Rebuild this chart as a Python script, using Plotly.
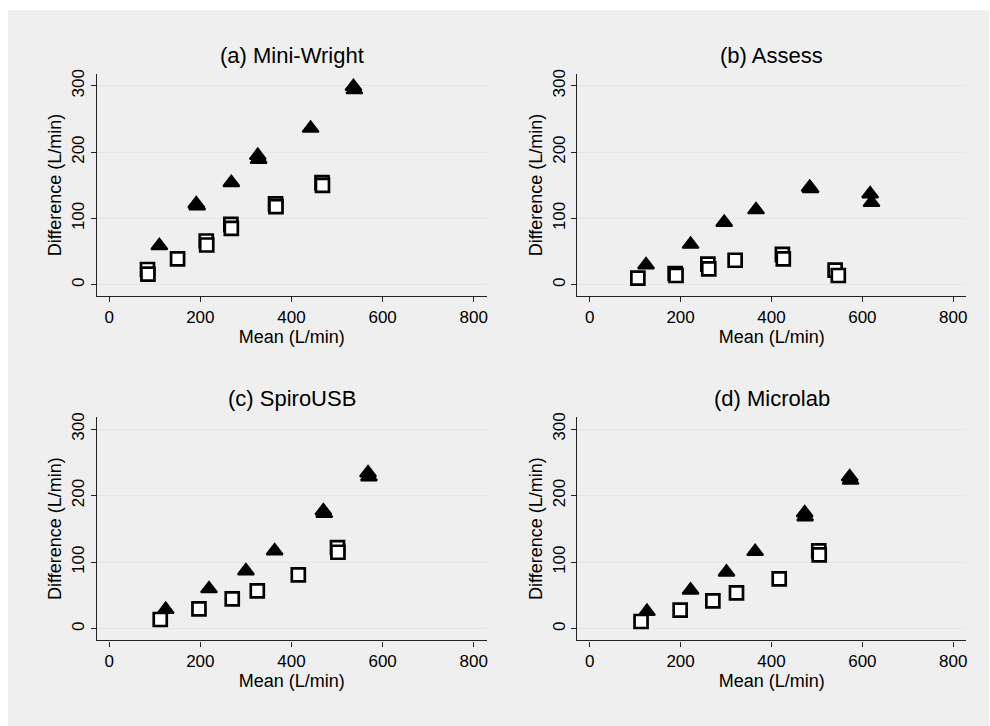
import plotly.graph_objects as go

# ---------------- data ----------------
panel_titles = ["(a) Mini-Wright", "(b) Assess", "(c) SpiroUSB", "(d) Microlab"]

# filled triangles
tri_x_a = [110, 191, 193, 268, 326, 328, 442, 536, 538]
tri_y_a = [59, 122, 119, 154, 195, 189, 236, 299, 294]
tri_x_b = [124, 222, 296, 366, 484, 486, 617, 620]
tri_y_b = [30, 61, 94, 113, 147, 145, 137, 124]
tri_x_c = [124, 219, 300, 363, 470, 472, 568, 570]
tri_y_c = [29, 60, 87, 117, 177, 173, 234, 228]
tri_x_d = [126, 222, 301, 364, 473, 474, 572, 574]
tri_y_d = [26, 58, 85, 116, 174, 168, 228, 223]

# hollow squares
sq_x_a = [84, 85, 150, 213, 214, 267, 268, 365, 366, 467, 468]
sq_y_a = [23, 16, 39, 66, 60, 91, 85, 122, 118, 154, 150]
sq_x_b = [106, 188, 190, 260, 262, 320, 424, 426, 540, 547]
sq_y_b = [10, 17, 14, 31, 24, 37, 46, 39, 22, 14]
sq_x_c = [112, 197, 270, 325, 415, 501, 502]
sq_y_c = [14, 30, 45, 57, 81, 122, 115]
sq_x_d = [113, 199, 271, 323, 417, 504, 505]
sq_y_d = [11, 28, 42, 54, 75, 117, 111]

x_ticks = [0, 200, 400, 600, 800]
y_ticks = [0, 100, 200, 300]
x_title = "Mean (L/min)"
y_title = "Difference (L/min)"

tri_sets = [(tri_x_a, tri_y_a), (tri_x_b, tri_y_b), (tri_x_c, tri_y_c), (tri_x_d, tri_y_d)]
sq_sets = [(sq_x_a, sq_y_a), (sq_x_b, sq_y_b), (sq_x_c, sq_y_c), (sq_x_d, sq_y_d)]

W, H = 990, 726
# plot-area pixel boxes (left, right, top, bottom)
boxes = [(97, 487, 70, 294), (578, 967, 70, 294), (97, 487, 415, 640), (578, 967, 415, 640)]

FONT = "Liberation Sans, Arial, sans-serif"
fig = go.Figure()

for i in range(4):
    ax = "" if i == 0 else str(i + 1)
    tx, ty = tri_sets[i]
    sx, sy = sq_sets[i]
    fig.add_trace(go.Scatter(
        x=sx, y=sy, mode="markers", xaxis="x" + ax, yaxis="y" + ax,
        marker=dict(symbol="square", size=13, color="white",
                    line=dict(color="black", width=2.7)),
        showlegend=False, hoverinfo="x+y"))
    fig.add_trace(go.Scatter(
        x=tx, y=ty, mode="markers", xaxis="x" + ax, yaxis="y" + ax,
        marker=dict(symbol="triangle-up", size=14, color="black",
                    line=dict(color="black", width=2)),
        showlegend=False, hoverinfo="x+y"))

layout = dict(
    width=W, height=H,
    margin=dict(l=0, r=0, t=0, b=0),
    paper_bgcolor="white",
    plot_bgcolor="white",
    font=dict(family=FONT, color="#000", size=17),
    shapes=[dict(type="rect", xref="paper", yref="paper",
                 x0=8 / W, x1=1, y0=0, y1=1 - 6 / H,
                 fillcolor="#efefef", line=dict(width=0), layer="below")],
    annotations=[],
)

for i, (l, r, t, b) in enumerate(boxes):
    ax = "" if i == 0 else str(i + 1)
    xd = [l / W, r / W]
    yd = [1 - b / H, 1 - t / H]
    layout["xaxis" + ax] = dict(
        domain=xd, anchor="y" + ax, range=[-27, 828],
        tickvals=x_ticks, ticks="outside", ticklen=5, tickwidth=1, tickcolor="#222",
        showline=True, linecolor="#222", linewidth=1.2, showgrid=False, zeroline=False,
        tickfont=dict(size=17, family=FONT, color="#000"),
        title=dict(text=x_title, font=dict(size=18, family=FONT, color="#000"), standoff=0),
        fixedrange=True)
    layout["yaxis" + ax] = dict(
        domain=yd, anchor="x" + ax, range=[-17.5, 318.5],
        tickvals=y_ticks, ticks="outside", ticklen=5, tickwidth=1, tickcolor="#222",
        tickangle=-90,
        showline=True, linecolor="#222", linewidth=1.2, showgrid=True,
        gridcolor="#e6e6e6", gridwidth=1.2, zeroline=False,
        tickfont=dict(size=17, family=FONT, color="#000"),
        title=dict(text=y_title, font=dict(size=18, family=FONT, color="#000"), standoff=2),
        fixedrange=True)
    layout["annotations"].append(dict(
        text=panel_titles[i], xref="paper", yref="paper",
        x=(xd[0] + xd[1]) / 2, y=yd[1] + 4 / H, xanchor="center", yanchor="bottom",
        showarrow=False, font=dict(size=22, family=FONT, color="#000")))

fig.update_layout(**layout)
fig.write_html("out.html")
